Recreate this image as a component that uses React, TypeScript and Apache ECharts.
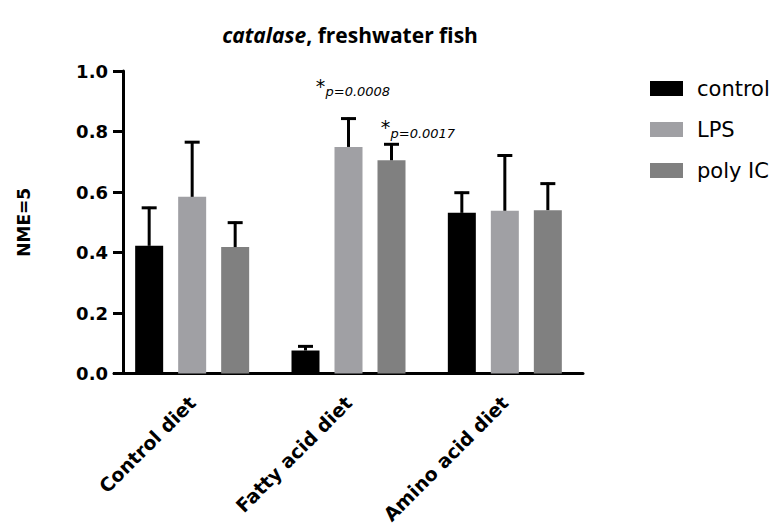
import React, { useEffect, useRef } from "react";
import * as echarts from "echarts";

const categories = ["Control diet", "Fatty acid diet", "Amino acid diet"];
const seriesNames = ["control", "LPS", "poly IC"];
const controlMean = [0.422, 0.076, 0.531];
const controlErr = [0.129, 0.017, 0.070];
const lpsMean = [0.584, 0.749, 0.538];
const lpsErr = [0.184, 0.097, 0.186];
const polyMean = [0.418, 0.705, 0.540];
const polyErr = [0.084, 0.056, 0.091];
const yTicks = [0, 0.2, 0.4, 0.6, 0.8, 1.0];

const annotCategory = [1, 1];
const annotSeries = [1, 2];
const annotValue = [0.931, 0.795];
const annotText = ["p=0.0008", "p=0.0017"];

// layout constants
const BAR_W = 28;
const BAR_GAP = 15;
const ANNOT_DX = [-28, -6];
const colors = ["#000000", "#A0A0A4", "#808080"];

export default function App() {
  const ref = useRef<HTMLDivElement>(null);
  useEffect(() => {
    if (!ref.current) return;
    document.body.style.margin = "0";
    const chart = echarts.init(ref.current, undefined, { renderer: "svg" });
    const means = [controlMean, lpsMean, polyMean];
    const errs = [controlErr, lpsErr, polyErr];
    const offsetOf = (k: number) => (k - 1) * (BAR_W + BAR_GAP);

    const barSeries = seriesNames.map((name, k) => ({
      name,
      type: "bar",
      data: means[k],
      barWidth: BAR_W,
      barGap: (BAR_GAP / BAR_W) * 100 + "%",
      itemStyle: { color: colors[k] },
      z: 2,
    }));

    const errSeries = seriesNames.map((name, k) => ({
      type: "custom",
      name: name + "_err",
      data: means[k].map((m, i) => [i, m, m + errs[k][i]]),
      encode: { x: 0, y: [1, 2] },
      z: 3,
      silent: true,
      renderItem: (params: any, api: any) => {
        const ci = api.value(0);
        const p0 = api.coord([ci, api.value(1)]);
        const p1 = api.coord([ci, api.value(2)]);
        const x = p0[0] + offsetOf(k);
        return {
          type: "group",
          children: [
            {
              type: "line",
              shape: { x1: x, y1: p0[1], x2: x, y2: p1[1] },
              style: { stroke: "#000", lineWidth: 3 },
            },
            {
              type: "line",
              shape: { x1: x - 7.5, y1: p1[1] + 1, x2: x + 7.5, y2: p1[1] + 1 },
              style: { stroke: "#000", lineWidth: 3 },
            },
          ],
        };
      },
    }));

    const annotSeriesObj = {
      type: "custom",
      name: "annot",
      data: annotCategory.map((c, i) => [c, annotValue[i], annotSeries[i], i]),
      encode: { x: 0, y: 1 },
      z: 4,
      silent: true,
      renderItem: (params: any, api: any) => {
        const idx = api.value(3);
        const p = api.coord([api.value(0), api.value(1)]);
        const x = p[0] + offsetOf(api.value(2)) + ANNOT_DX[idx];
        return {
          type: "group",
          children: [
            {
              type: "text",
              x: x,
              y: p[1] - 6,
              style: {
                text: "*",
                fontSize: 19,
                fontFamily: "DejaVu Sans",
                fill: "#000",
                align: "center",
                verticalAlign: "middle",
              },
            },
            {
              type: "text",
              x: x + 5,
              y: p[1],
              style: {
                text: annotText[idx],
                fontSize: 13,
                fontStyle: "italic",
                fontFamily: "DejaVu Sans",
                fill: "#000",
                align: "left",
                verticalAlign: "middle",
              },
            },
          ],
        };
      },
    };

    chart.setOption({
      animation: false,
      backgroundColor: "#ffffff",
      title: {
        text: "{i|catalase}{b|, freshwater fish}",
        left: 345,
        top: 19,
        textAlign: "center",
        textStyle: {
          rich: {
            i: { fontFamily: "Open Sans", fontWeight: "bold", fontStyle: "italic", fontSize: 21, color: "#000" },
            b: { fontFamily: "Open Sans", fontWeight: "bold", fontSize: 21, color: "#000" },
          },
        },
      },
      legend: {
        data: seriesNames,
        orient: "vertical",
        left: 645,
        top: 73,
        itemWidth: 33,
        itemHeight: 15,
        itemGap: 20,
        icon: "rect",
        textStyle: {
          fontFamily: "DejaVu Sans",
          fontSize: 21,
          color: "#000",
          padding: [0, 0, 0, 9],
        },
      },
      grid: { left: 114, right: 194, top: 71, bottom: 153.5 },
      xAxis: {
        type: "category",
        data: categories,
        axisLine: { lineStyle: { color: "#000", width: 3 } },
        axisTick: { alignWithLabel: true, length: 8, lineStyle: { color: "#000", width: 3 } },
        axisLabel: {
          rotate: 45,
          margin: 26,
          fontFamily: "DejaVu Sans",
          fontWeight: "bold",
          fontSize: 19,
          color: "#000",
        },
      },
      yAxis: {
        type: "value",
        min: 0,
        max: 1,
        interval: 0.2,
        offset: -9,
        name: "NME=5",
        nameLocation: "middle",
        nameGap: 91,
        nameTextStyle: { fontFamily: "DejaVu Sans", fontWeight: "bold", fontSize: 17, color: "#000" },
        axisLine: { show: true, lineStyle: { color: "#000", width: 3 } },
        axisTick: { show: true, length: 10, lineStyle: { color: "#000", width: 3 } },
        splitLine: { show: false },
        axisLabel: {
          margin: 15,
          fontFamily: "DejaVu Sans",
          fontWeight: "bold",
          fontSize: 18,
          color: "#000",
          formatter: (v: number) => (yTicks.some((t) => Math.abs(t - v) < 1e-9) ? v.toFixed(1) : ""),
        },
      },
      series: [...barSeries, ...errSeries, annotSeriesObj],
    });
    return () => chart.dispose();
  }, []);
  return <div ref={ref} style={{ width: 777, height: 527 }} />;
}
